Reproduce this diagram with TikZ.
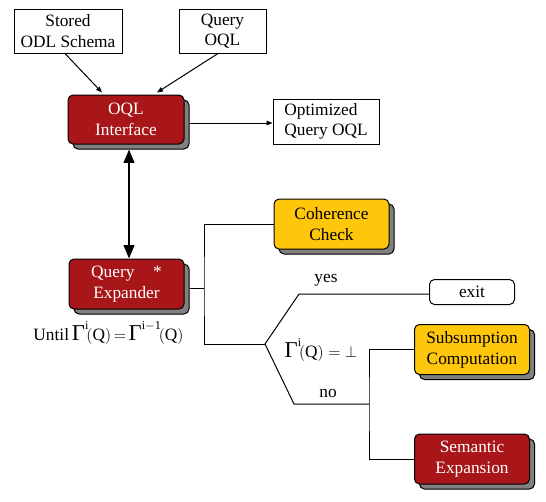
\documentclass[tikz,border=0pt]{standalone}
\usepackage{fontspec}
\setmainfont{Liberation Serif}
\usetikzlibrary{arrows.meta,positioning,calc,shadows}
\definecolor{expred}{RGB}{168,22,26}
\definecolor{expyellow}{RGB}{255,199,12}
\newcommand{\Gm}{\mbox{\fontsize{17}{17}\selectfont Γ}}

\begin{document}
\begin{tikzpicture}[x=0.75pt,y=-0.75pt,line width=0.75pt,
  >={Triangle[length=4.5pt,width=3.5pt]},
  every node/.style={font=\fontsize{13}{15.5}\selectfont},
  inbox/.style={draw,align=center,minimum height=33pt,inner sep=2pt},
  proc/.style={draw,rounded corners=3.75pt,align=center,minimum width=86.25pt,minimum height=37.5pt,inner sep=2pt,
    general shadow={draw=black,fill=black!50,shadow xshift=3.75pt,shadow yshift=-3.75pt}},
  redbox/.style={proc,fill=expred,text=white},
  yellowbox/.style={proc,fill=expyellow},
  lab/.style={inner sep=1pt}]
\useasboundingbox (0,0) rectangle (546,501);
\node (odl) [inbox,minimum width=81pt] at (68,31) {Stored\\ODL Schema};
\node (qry) [inbox,minimum width=65.25pt] at (222.5,31) {Query\\OQL};
\node (oql) [redbox,minimum width=87pt,minimum height=36.75pt] at (126,119.5) {OQL\\Interface};
\node (opt) [inbox,align=left,minimum width=79.5pt,minimum height=33.75pt] at (326,121.5) {Optimized\\Query OQL};
\node (qe) [redbox] at (126.5,284) {Query\hspace{14pt}*\\Expander};
\node (until) [lab] at (108.5,333) {Until\,$\Gm^{\mathrm{i}}\!(\mathrm{Q})\,\mathbf{=}\,\Gm^{\mathrm{i-1}}\!(\mathrm{Q})$};
\node (coh) [yellowbox] at (331.5,224) {Coherence\\Check};
\node (exit) [draw,rounded corners=3.75pt,minimum width=63.75pt,minimum height=18.75pt,inner sep=1pt] at (472,292) {exit};
\node (sub) [yellowbox] at (472,349.5) {Subsumption\\Computation};
\node (sem) [redbox] at (472,459) {Semantic\\Expansion};
\node (yes) [lab] at (326,280) {yes};
\node (no) [lab] at (328,393) {no};
\node (bot) [lab] at (321,350) {$\Gm^{\mathrm{i}}\!(\mathrm{Q}) = \bot$};
\coordinate (split) at (204,288);
\coordinate (fork) at (265,344);
\coordinate (join) at (369,404);
\draw[->] ($(odl.south)+(-3,0)$) -- ($(oql.north)+(-24,-2)$);
\draw[->] ($(qry.south)+(-4.5,0)$) -- ($(oql.north)+(31,-2)$);
\draw[->] ($(oql.east)+(5,3.5)$) -- ($(opt.west)+(0,1.5)$);
\draw[{Triangle[length=10pt,width=8pt]}-{Triangle[length=10pt,width=8pt]},line width=1.5pt]
  ($(oql.south)+(3,5)$) -- ($(qe.north)+(2.5,0)$);
\draw ($(qe.east)+(5,4)$) -- (split);
\draw (coh.west) -| (split) |- (fork);
\draw ($(exit.west)+(0,2)$) -- ++(-130,0) -- (fork) -- (294,404) -- (join);
\draw (sub.west) -| (join) |- (sem.west);
\end{tikzpicture}
\end{document}
